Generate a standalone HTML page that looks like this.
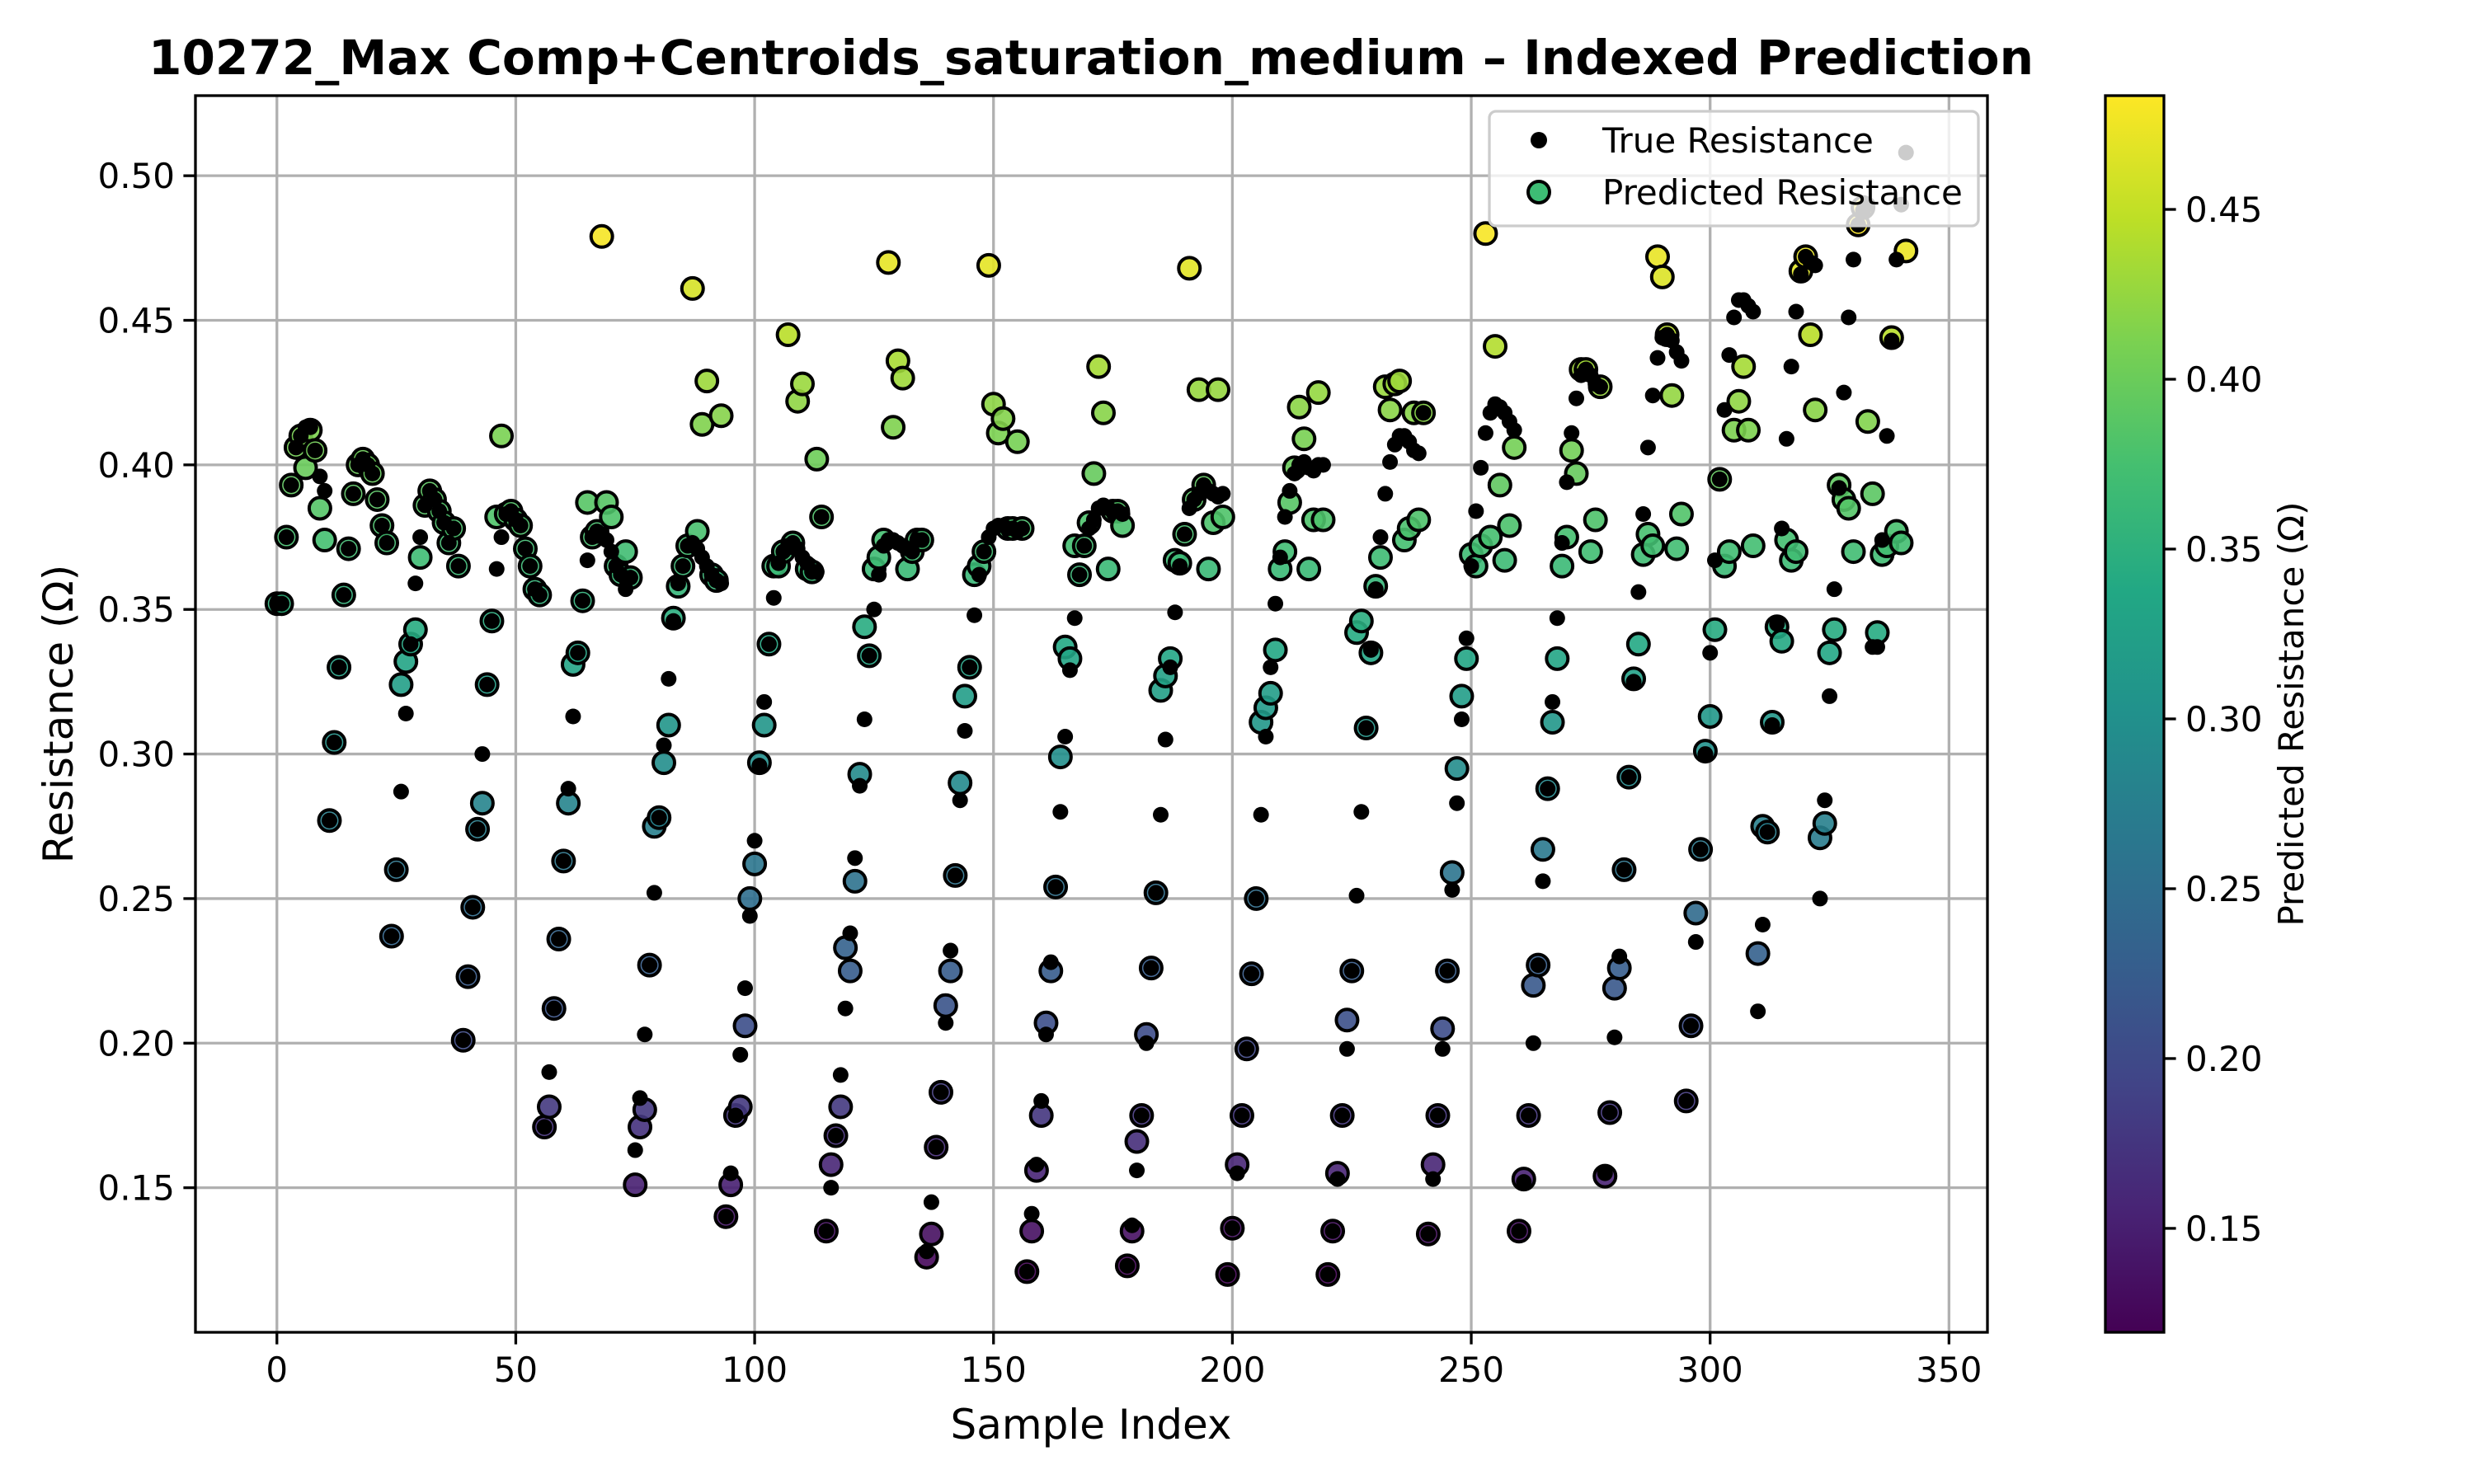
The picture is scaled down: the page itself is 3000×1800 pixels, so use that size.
<!DOCTYPE html>
<html><head><meta charset="utf-8"><title>Indexed Prediction</title>
<style>html,body{margin:0;padding:0;background:#fff}svg{display:block}text{font-family:"DejaVu Sans","Liberation Sans",sans-serif}</style>
</head><body>
<svg id="chart" xmlns="http://www.w3.org/2000/svg" width="3000" height="1800" viewBox="0 0 3000 1800">
<rect width="3000" height="1800" fill="#fff"/>
<text x="1323" y="90" text-anchor="middle" font-size="58" font-weight="bold" textLength="2286" lengthAdjust="spacingAndGlyphs">10272_Max Comp+Centroids_saturation_medium – Indexed Prediction</text>
<g id="grid"></g>
<g id="pred"></g>
<g id="true"></g>
<rect x="237" y="116" width="2173" height="1500" fill="none" stroke="#000" stroke-width="3.3"/>
<g id="axes"></g>
<text x="1323" y="1745" text-anchor="middle" font-size="50">Sample Index</text>
<text transform="translate(88,866) rotate(-90)" text-anchor="middle" font-size="50">Resistance (Ω)</text>
<g>
<rect x="1806" y="135" width="593" height="139" rx="8" fill="rgba(255,255,255,0.8)" stroke="#ccc" stroke-width="3.3"/>
<circle cx="1866" cy="170" r="10" fill="#000"/>
<text x="1943" y="185" font-size="42">True Resistance</text>
<circle cx="1866" cy="233" r="13" fill="#3dbc74" stroke="#000" stroke-width="4"/>
<text x="1943" y="248" font-size="42">Predicted Resistance</text>
</g>
<defs><linearGradient id="vir" x1="0" y1="1" x2="0" y2="0"></linearGradient></defs>
<rect x="2553" y="116" width="71" height="1500" fill="url(#vir)" stroke="#000" stroke-width="3.3"/>
<g id="cbaxis"></g>
<text transform="translate(2793,866) rotate(-90)" text-anchor="middle" font-size="42">Predicted Resistance (Ω)</text>
</svg>
<script>
const trueVals=[0.352,0.352,0.375,0.393,0.406,0.41,0.413,0.413,0.405,0.396,
0.391,0.277,0.304,0.33,0.355,0.371,0.39,0.4,0.402,0.4,
0.397,0.388,0.379,0.373,0.237,0.26,0.287,0.314,0.338,0.359,
0.375,0.386,0.391,0.388,0.384,0.38,0.373,0.378,0.365,0.201,
0.223,0.247,0.274,0.3,0.324,0.346,0.364,0.375,0.383,0.384,
0.381,0.379,0.371,0.365,0.357,0.355,0.171,0.19,0.212,0.236,
0.263,0.288,0.313,0.335,0.353,0.367,0.375,0.377,0.376,0.374,
0.37,0.365,0.362,0.357,0.361,0.163,0.181,0.203,0.227,0.252,
0.278,0.303,0.326,0.346,0.359,0.365,0.372,0.373,0.371,0.368,
0.365,0.362,0.36,0.359,0.14,0.155,0.175,0.196,0.219,0.244,
0.27,0.296,0.318,0.338,0.354,0.366,0.37,0.372,0.373,0.371,
0.368,0.366,0.363,0.363,0.382,0.135,0.15,0.168,0.189,0.212,
0.238,0.264,0.289,0.312,0.334,0.35,0.362,0.372,0.374,0.374,
0.373,0.372,0.371,0.37,0.374,0.374,0.128,0.145,0.164,0.183,
0.207,0.232,0.258,0.284,0.308,0.33,0.348,0.362,0.37,0.375,
0.378,0.379,0.379,0.378,0.378,0.377,0.378,0.121,0.141,0.158,
0.18,0.203,0.228,0.254,0.28,0.306,0.329,0.347,0.362,0.372,
0.378,0.381,0.385,0.386,0.385,0.384,0.384,0.383,0.123,0.137,
0.156,0.175,0.2,0.226,0.252,0.279,0.305,0.33,0.349,0.365,
0.376,0.385,0.388,0.39,0.393,0.391,0.39,0.389,0.39,0.12,
0.136,0.155,0.175,0.198,0.224,0.25,0.279,0.306,0.33,0.352,
0.368,0.382,0.391,0.397,0.4,0.401,0.399,0.398,0.4,0.4,
0.12,0.135,0.153,0.175,0.198,0.225,0.251,0.28,0.309,0.336,
0.357,0.375,0.39,0.401,0.407,0.41,0.41,0.408,0.405,0.404,
0.418,0.134,0.153,0.175,0.198,0.225,0.253,0.283,0.312,0.34,
0.365,0.384,0.399,0.411,0.418,0.421,0.42,0.418,0.415,0.412,
0.135,0.152,0.175,0.2,0.227,0.256,0.288,0.318,0.347,0.373,
0.394,0.411,0.423,0.431,0.433,0.431,0.428,0.427,0.155,0.176,
0.202,0.23,0.26,0.292,0.325,0.356,0.383,0.406,0.424,0.437,
0.444,0.445,0.443,0.439,0.436,0.18,0.206,0.235,0.267,0.3,
0.335,0.367,0.395,0.419,0.438,0.451,0.457,0.457,0.455,0.453,
0.211,0.241,0.273,0.31,0.345,0.378,0.409,0.434,0.453,0.466,
0.472,0.47,0.469,0.25,0.284,0.32,0.357,0.392,0.425,0.451,
0.471,0.483,0.488,0.49,0.337,0.337,0.374,0.41,0.443,0.471,
0.49,0.508];
const predVals=[0.352,0.352,0.375,0.393,0.406,0.41,0.399,0.412,0.405,0.385,
0.374,0.277,0.304,0.33,0.355,0.371,0.39,0.4,0.402,0.4,
0.397,0.388,0.379,0.373,0.237,0.26,0.324,0.332,0.338,0.343,
0.368,0.386,0.391,0.388,0.384,0.38,0.373,0.378,0.365,0.201,
0.223,0.247,0.274,0.283,0.324,0.346,0.382,0.41,0.383,0.384,
0.381,0.379,0.371,0.365,0.357,0.355,0.171,0.178,0.212,0.236,
0.263,0.283,0.331,0.335,0.353,0.387,0.375,0.377,0.479,0.387,
0.382,0.365,0.362,0.37,0.361,0.151,0.171,0.177,0.227,0.275,
0.278,0.297,0.31,0.347,0.358,0.365,0.372,0.461,0.377,0.414,
0.429,0.362,0.36,0.417,0.14,0.151,0.175,0.178,0.206,0.25,
0.262,0.297,0.31,0.338,0.365,0.365,0.37,0.445,0.373,0.422,
0.428,0.364,0.363,0.402,0.382,0.135,0.158,0.168,0.178,0.233,
0.225,0.256,0.293,0.344,0.334,0.364,0.368,0.374,0.47,0.413,
0.436,0.43,0.364,0.37,0.374,0.374,0.126,0.134,0.164,0.183,
0.213,0.225,0.258,0.29,0.32,0.33,0.362,0.365,0.37,0.469,
0.421,0.411,0.416,0.378,0.378,0.408,0.378,0.121,0.135,0.156,
0.175,0.207,0.225,0.254,0.299,0.337,0.333,0.372,0.362,0.372,
0.38,0.397,0.434,0.418,0.364,0.384,0.384,0.379,0.123,0.135,
0.166,0.175,0.203,0.226,0.252,0.322,0.327,0.333,0.367,0.366,
0.376,0.468,0.388,0.426,0.393,0.364,0.38,0.426,0.382,0.12,
0.136,0.158,0.175,0.198,0.224,0.25,0.311,0.316,0.321,0.336,
0.364,0.37,0.387,0.399,0.42,0.409,0.364,0.381,0.425,0.381,
0.12,0.135,0.155,0.175,0.208,0.225,0.342,0.346,0.309,0.335,
0.358,0.368,0.427,0.419,0.428,0.429,0.374,0.378,0.418,0.381,
0.418,0.134,0.158,0.175,0.205,0.225,0.259,0.295,0.32,0.333,
0.369,0.365,0.372,0.48,0.375,0.441,0.393,0.367,0.379,0.406,
0.135,0.153,0.175,0.22,0.227,0.267,0.288,0.311,0.333,0.365,
0.375,0.405,0.397,0.433,0.433,0.37,0.381,0.427,0.154,0.176,
0.219,0.226,0.26,0.292,0.326,0.338,0.369,0.376,0.372,0.472,
0.465,0.445,0.424,0.371,0.383,0.18,0.206,0.245,0.267,0.301,
0.313,0.343,0.395,0.365,0.37,0.412,0.422,0.434,0.412,0.372,
0.231,0.275,0.273,0.311,0.344,0.339,0.374,0.367,0.37,0.467,
0.472,0.445,0.419,0.271,0.276,0.335,0.343,0.393,0.388,0.385,
0.37,0.483,0.489,0.415,0.39,0.342,0.369,0.372,0.444,0.377,
0.373,0.474];
const xTicks=[0,50,100,150,200,250,300,350];
const yTicks=[0.15,0.20,0.25,0.30,0.35,0.40,0.45,0.50];
const cbTicks=[0.15,0.20,0.25,0.30,0.35,0.40,0.45];

const NS='http://www.w3.org/2000/svg';
const X0=237,X1=2410,Y0=116,Y1=1616;
const XMIN=-17.05,XMAX=358.05,YMIN=0.1,YMAX=0.5277,CMIN=0.1194,CMAX=0.4835;
function sx(v){return X0+(v-XMIN)/(XMAX-XMIN)*(X1-X0);}
function sy(v){return Y1-(v-YMIN)/(YMAX-YMIN)*(Y1-Y0);}
function cy(v){return Y1-(v-CMIN)/(CMAX-CMIN)*(Y1-Y0);}
const vir=[[68,1,84],[72,36,117],[65,68,135],[53,95,141],[42,120,142],[33,145,140],[34,168,132],[68,191,112],[122,209,81],[189,223,38],[253,231,37]];
function color(v){let t=(v-CMIN)/(CMAX-CMIN);t=Math.max(0,Math.min(1,t))*(vir.length-1);const i=Math.min(Math.floor(t),vir.length-2),f=t-i;const c=vir[i].map((a,k)=>Math.round(a+(vir[i+1][k]-a)*f));return 'rgb('+c.join(',')+')';}
function mk(tag,attrs,parent){const e=document.createElementNS(NS,tag);for(const k in attrs)e.setAttribute(k,attrs[k]);parent.appendChild(e);return e;}
const grid=document.getElementById('grid'),axes=document.getElementById('axes');
xTicks.forEach(t=>{const x=sx(t);
const g=mk('line',{x1:x,x2:x,y1:Y0,y2:Y1,stroke:'#b0b0b0','stroke-width':3.3},grid);


const tk=mk('line',{x1:x,x2:x,y1:Y1,y2:Y1+14.6,stroke:'#000','stroke-width':3.3},axes);


const lb=mk('text',{x:x,y:Y1+60,'text-anchor':'middle','font-size':42},axes);lb.textContent=String(t);

});
yTicks.forEach(t=>{const y=sy(t);
const g=mk('line',{x1:X0,x2:X1,y1:y,y2:y,stroke:'#b0b0b0','stroke-width':3.3},grid);


const tk=mk('line',{x1:X0-14.6,x2:X0,y1:y,y2:y,stroke:'#000','stroke-width':3.3},axes);


const lb=mk('text',{x:X0-25,y:y+15,'text-anchor':'end','font-size':42},axes);lb.textContent=t.toFixed(2);

});
const pg=document.getElementById('pred'),tg=document.getElementById('true');
predVals.forEach((v,i)=>{const c=mk('circle',{cx:sx(i),cy:sy(v),r:13,fill:color(v),stroke:'#000','stroke-width':4,'fill-opacity':0.9},pg);

});
trueVals.forEach((v,i)=>{const c=mk('circle',{cx:sx(i),cy:sy(v),r:9.5,fill:'#000'},tg);

});
const lg=document.getElementById('vir');
vir.forEach((c,i)=>{mk('stop',{offset:(i/(vir.length-1)),'stop-color':'rgb('+c.join(',')+')'},lg);});
const cb=document.getElementById('cbaxis');
cbTicks.forEach(t=>{const y=cy(t);
const tk=mk('line',{x1:2624,x2:2638.6,y1:y,y2:y,stroke:'#000','stroke-width':3.3},cb);


const lb=mk('text',{x:2650,y:y+15,'font-size':42},cb);lb.textContent=t.toFixed(2);

});
</script>
</body></html>
